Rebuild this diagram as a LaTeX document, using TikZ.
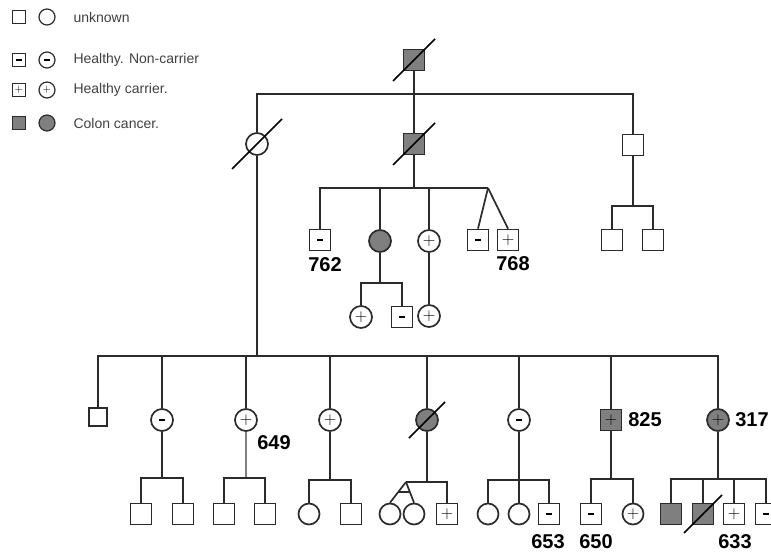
\documentclass[tikz,border=0pt]{standalone}
\usepackage{fontspec}
\setmainfont{Liberation Sans}
\usetikzlibrary{calc}
\definecolor{linec}{HTML}{2B2B2B}
\definecolor{affc}{HTML}{7F7F7F}
\definecolor{keyc}{HTML}{404040}
\newcommand{\pls}{$+$}
\newcommand{\mns}{\rule{6pt}{2pt}}
\tikzset{
  ind/.style={draw=linec, line width=1.7pt, fill=white, inner sep=0pt, font=\fontsize{16}{16}\selectfont},
  sq/.style={ind, rectangle, minimum size=21pt},
  ci/.style={ind, circle, minimum size=22pt},
  aff/.style={fill=affc},
  ksq/.style={sq, line width=1.2pt, minimum size=13pt, font=\fontsize{11}{11}\selectfont},
  kci/.style={ci, line width=1.2pt, minimum size=16pt, font=\fontsize{11}{11}\selectfont},
  lnk/.style={draw=linec, line width=1.7pt},
  slash/.style={draw=black, line width=1.6pt},
  lab/.style={font=\fontsize{20}{22}\selectfont\bfseries, text=black},
  key/.style={font=\fontsize{14}{16}\selectfont, text=keyc, anchor=west}
}
\begin{document}
\begin{tikzpicture}[x=1pt, y=-1pt]
  \clip (0,0) rectangle (771,554);
  % legend
  \node[ksq] (k1s) at (19,17) {};
  \node[kci] (k1c) at (47,17) {};
  \node[key] (k1t) at (70,17) {unknown};
  \node[ksq] (k2s) at (19,60) {\mns};
  \node[kci] (k2c) at (47,60) {\mns};
  \node[key] (k2t) at (70,60) {Healthy. Non-carrier};
  \node[ksq] (k3s) at (19,90) {\pls};
  \node[kci] (k3c) at (47,90) {\pls};
  \node[key] (k3t) at (70,90) {Healthy carrier.};
  \node[ksq, aff] (k4s) at (19,123) {};
  \node[kci, aff] (k4c) at (47,123) {};
  \node[key] (k4t) at (70,123) {Colon cancer.};

  % top generations
  \node[sq, aff] (I1) at (414,60) {};
  \node[ci] (II1) at (257,144) {};
  \node[sq, aff] (II2) at (414,144) {};
  \node[sq] (II3) at (633,145) {};
  \node[sq] (III1) at (320,240) {\mns};
  \node[ci, aff] (III2) at (380,241) {};
  \node[ci] (III3) at (429,241) {\pls};
  \node[sq] (III4) at (478,240) {\mns};
  \node[sq] (III5) at (508,240) {\pls};
  \node[sq] (III6) at (612,240) {};
  \node[sq] (III7) at (653,240) {};
  \node[ci] (IV1) at (361,317) {\pls};
  \node[sq] (IV2) at (402,317) {\mns};
  \node[ci] (IV3) at (429,316) {\pls};
  \node[lab] (n762) at (325,265) {762};
  \node[lab] (n768) at (513,264) {768};

  \coordinate (b1) at (414,94);
  \coordinate (b2) at (414,188);
  \coordinate (tw1) at (488,188);
  \coordinate (b3) at (633,206);
  \coordinate (b4) at (380,283);
  \draw[lnk] (II1) -- (II1 |- b1) -- (II3 |- b1) -- (II3);
  \draw[lnk] (I1) -- (II2);
  \draw[lnk] (II2) -- (b2);
  \draw[lnk] (III1) |- (tw1);
  \draw[lnk] (III2) -- (III2 |- b2);
  \draw[lnk] (III3) -- (III3 |- b2);
  \draw[lnk] (tw1) -- (III4.north);
  \draw[lnk] (tw1) -- (III5.north);
  \draw[lnk] (II3) -- (b3);
  \draw[lnk] (III6) |- (III7 |- b3) -- (III7);
  \draw[lnk] (III2) -- (b4);
  \draw[lnk] (IV1) |- (IV2 |- b4) -- (IV2);
  \draw[lnk] (III3) -- (IV3);

  % children of the left daughter
  \node[sq, minimum size=18pt] (III8) at (98,417) {};
  \node[ci] (III9) at (162,420) {\mns};
  \node[ci] (III10) at (246,420) {\pls};
  \node[ci] (III11) at (330,420) {\pls};
  \node[ci, aff] (III12) at (427,420) {};
  \node[ci] (III13) at (519,420) {\mns};
  \node[sq, aff] (III14) at (611,420) {\pls};
  \node[ci, aff] (III15) at (718,420) {\pls};
  \node[lab] (n649) at (274,443) {649};
  \node[lab] (n825) at (645,420) {825};
  \node[lab] (n317) at (752,420) {317};

  \coordinate (b5) at (257,356);
  \draw[lnk] (II1) -- (b5);
  \draw[lnk] (III8) |- (III15 |- b5) -- (III15);
  \foreach \n in {III9,III10,III11,III12,III13,III14}
    \draw[lnk] (\n) -- (\n |- b5);

  % grandchildren
  \node[sq] (IV4) at (141,514) {};
  \node[sq] (IV5) at (183,514) {};
  \node[sq] (IV6) at (224,514) {};
  \node[sq] (IV7) at (265,514) {};
  \node[ci, minimum size=21pt] (IV8) at (309,514) {};
  \node[sq] (IV9) at (351,514) {};
  \node[ci, minimum size=21pt] (IV10) at (390,514) {};
  \node[ci, minimum size=21pt] (IV11) at (414,514) {};
  \node[sq] (IV12) at (447,514) {\pls};
  \node[ci, minimum size=21pt] (IV13) at (488,514) {};
  \node[ci, minimum size=21pt] (IV14) at (519,514) {};
  \node[sq] (IV15) at (549,514) {\mns};
  \node[sq] (IV16) at (591,514) {\mns};
  \node[ci, minimum size=21pt] (IV17) at (633,514) {\pls};
  \node[sq, aff] (IV18) at (671,514) {};
  \node[sq, aff] (IV19) at (703,514) {};
  \node[sq] (IV20) at (734,514) {\pls};
  \node[sq] (IV21) at (766,514) {\mns};
  \node[lab] (n653) at (548,542) {653};
  \node[lab] (n650) at (596,542) {650};
  \node[lab] (n633) at (735,542) {633};

  \foreach \p/\y/\a/\b in {III9/478/IV4/IV5, III11/480/IV8/IV9, III13/480/IV13/IV15,
                           III14/479/IV16/IV17, III15/479/IV18/IV21} {
    \draw[lnk] (\p) -- (\p |- 0,\y);
    \draw[lnk] (\a) |- (\b |- 0,\y) -- (\b);
  }
  \draw[draw=gray, line width=1.2pt] (III10) -- (III10 |- 0,478);
  \draw[lnk] (IV6) |- (IV7 |- 0,478) -- (IV7);
  \draw[lnk] (IV14) -- (IV14 |- 0,480);
  \draw[lnk] (IV19) -- (IV19 |- 0,479);
  \draw[lnk] (IV20) -- (IV20 |- 0,479);
  % twins
  \coordinate (tw2) at (406,482);
  \draw[lnk] (III12) -- (III12 |- tw2);
  \draw[lnk] (tw2) -- (IV12 |- tw2) -- (IV12);
  \draw[lnk] (tw2) -- (IV10.north);
  \draw[lnk] (tw2) -- (IV11.north);
  \draw[lnk] ($(tw2)!0.48!(IV10.north)$) -- ($(tw2)!0.48!(IV11.north)$);

  % deceased
  \foreach \n/\d in {I1/21, II1/25, II2/21, III12/18, IV19/19}
    \draw[slash] ([shift={(-\d,\d)}]\n.center) -- ([shift={(\d,-\d)}]\n.center);
\end{tikzpicture}
\end{document}
